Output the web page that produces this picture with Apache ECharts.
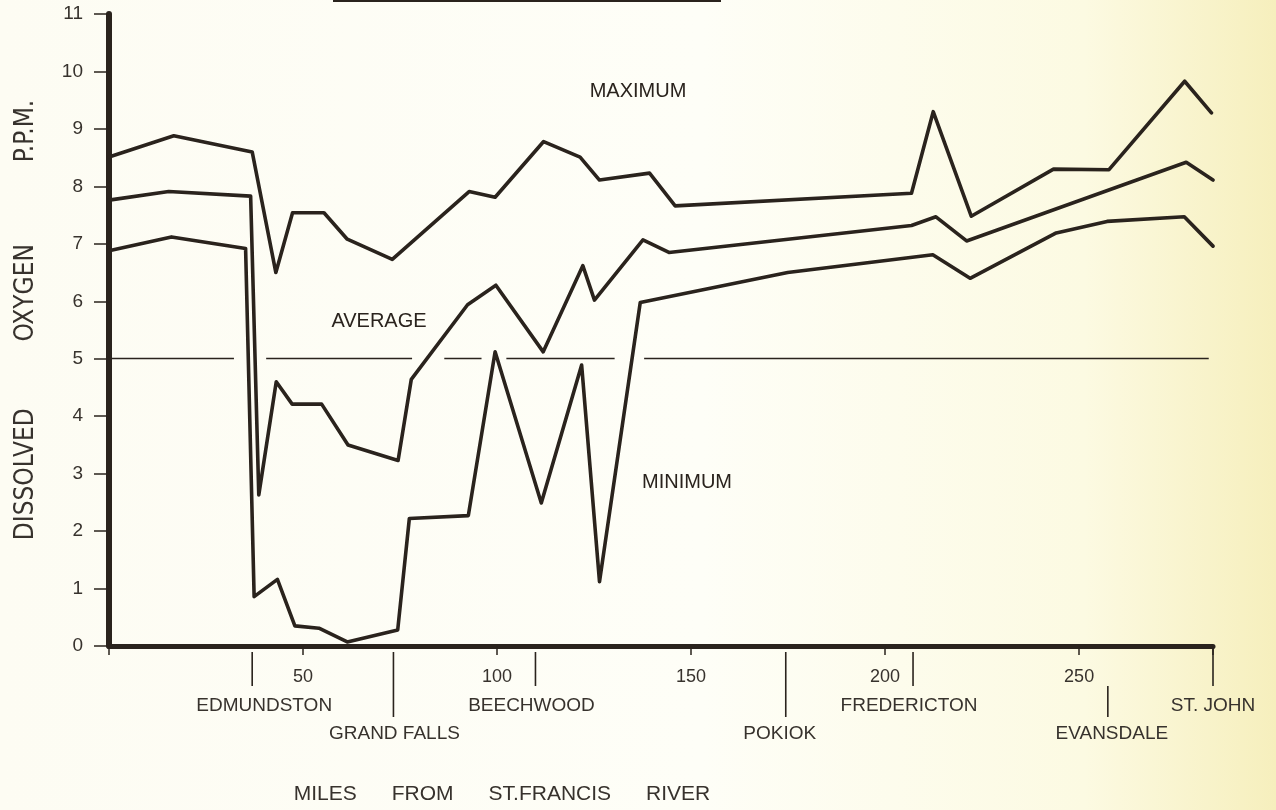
<!DOCTYPE html>
<html><head><meta charset="utf-8">
<script src="https://cdn.jsdelivr.net/npm/echarts@6/dist/echarts.min.js"></script>
<style>
html,body{margin:0;padding:0;}
#chart{width:1276px;height:810px;background:linear-gradient(to right,#fdfcf3 0%,#fefef7 55%,#fcfae2 85%,#f6efbd 100%);}
</style></head><body><div id="chart"></div>
<script>
// ---- data (miles from St. Francis River, dissolved oxygen p.p.m.) ----
const maxMiles = [0, 16.7, 36.9, 43.0, 47.3, 55.4, 61.4, 73.0, 92.8, 99.5, 112.0, 121.4, 126.4, 139.3, 145.9, 206.8, 212.4, 222.2, 243.4, 257.7, 277.2, 284.1];
const maxValues = [8.51, 8.88, 8.60, 6.50, 7.54, 7.54, 7.08, 6.73, 7.91, 7.81, 8.78, 8.51, 8.11, 8.23, 7.66, 7.88, 9.30, 7.48, 8.30, 8.29, 9.83, 9.28];
const avgMiles = [0, 15.4, 36.5, 38.6, 43.1, 47.2, 54.8, 61.6, 74.5, 77.9, 92.4, 99.7, 111.9, 122.1, 125.1, 137.6, 144.3, 206.8, 213.1, 221.0, 277.6, 284.5];
const avgValues = [7.76, 7.91, 7.83, 2.63, 4.60, 4.21, 4.21, 3.50, 3.23, 4.64, 5.94, 6.28, 5.12, 6.62, 6.02, 7.07, 6.85, 7.32, 7.47, 7.05, 8.42, 8.11];
const minMiles = [0, 16.1, 35.2, 37.4, 43.4, 47.9, 54.1, 61.4, 74.4, 77.4, 92.6, 99.5, 111.4, 121.8, 126.4, 136.9, 174.9, 212.3, 221.9, 244.1, 257.2, 277.1, 284.5];
const minValues = [6.88, 7.12, 6.92, 0.86, 1.16, 0.35, 0.31, 0.07, 0.28, 2.22, 2.27, 5.12, 2.49, 4.89, 1.12, 5.98, 6.50, 6.81, 6.40, 7.19, 7.39, 7.47, 6.96];
const seriesNames = ['MAXIMUM', 'AVERAGE', 'MINIMUM'];
const xTickLabels = [50, 100, 150, 200, 250];
const yTickLabels = [0, 1, 2, 3, 4, 5, 6, 7, 8, 9, 10, 11];
const towns = ['EDMUNDSTON', 'GRAND FALLS', 'BEECHWOOD', 'POKIOK', 'FREDERICTON', 'EVANSDALE', 'ST. JOHN'];
const townMiles = [36.9, 73.3, 109.9, 174.4, 207.2, 257.4, 284.5];
const refLevel = 5;
const refStarts = [0, 40.5, 86.4, 102.4, 137.9];
const refEnds = [32.2, 78.1, 96.0, 130.3, 283.4];
const xTitle = 'MILES      FROM      ST.FRANCIS      RIVER';
const yTitle = 'DISSOLVED         OXYGEN           P.P.M.';

// ---- styling / layout ----
const INK = '#2a231d';
const TXT = '#37322d';
const FONT = "'Liberation Sans', Arial, sans-serif";
const NARROW = "'Liberation Sans Narrow', 'DejaVu Sans Condensed', 'Liberation Sans', sans-serif";
const townLayout = {
  'EDMUNDSTON': {row: 1, dx: 12, from: 6},
  'GRAND FALLS': {row: 2, dx: 1, from: 6},
  'BEECHWOOD': {row: 1, dx: -4, from: 6},
  'POKIOK': {row: 2, dx: -6, from: 6},
  'FREDERICTON': {row: 1, dx: -4, from: 6},
  'EVANSDALE': {row: 2, dx: 4, from: 40},
  'ST. JOHN': {row: 1, dx: 0, from: 0}
};
const rowGeom = {1: {lineTo: 40, text: 60}, 2: {lineTo: 71, text: 88}};

const zip = (a, b) => a.map((x, i) => [x, b[i]]);
const lineSeries = (name, xs, ys) => ({
  name, type: 'line', data: zip(xs, ys), symbol: 'none', silent: true,
  lineStyle: {color: INK, width: 3.6, cap: 'round', join: 'round'}, z: 3
});

const chart = echarts.init(document.getElementById('chart'), null, {renderer: 'canvas'});
const option = {
  backgroundColor: 'transparent',
  animation: false,
  grid: {left: 109, right: 63, top: 14, bottom: 164},
  xAxis: {
    type: 'value', min: 0, max: 284.5, interval: 50,
    axisLine: {lineStyle: {color: INK, width: 5}},
    axisTick: {length: 9, lineStyle: {color: INK, width: 1.5}},
    axisLabel: {margin: 22, color: TXT, fontSize: 18, fontFamily: FONT,
      formatter: v => xTickLabels.indexOf(v) >= 0 ? String(v) : ''},
    splitLine: {show: false}
  },
  yAxis: {
    type: 'value', min: 0, max: 11, interval: 1,
    axisLine: {lineStyle: {color: INK, width: 6}},
    axisTick: {length: 15, lineStyle: {color: INK, width: 1.5}},
    axisLabel: {margin: 26, color: TXT, fontSize: 19, fontFamily: FONT,
      formatter: v => yTickLabels.indexOf(v) >= 0 ? String(v) : ''},
    splitLine: {show: false}
  },
  series: [
    lineSeries(seriesNames[0], maxMiles, maxValues),
    lineSeries(seriesNames[1], avgMiles, avgValues),
    Object.assign(lineSeries(seriesNames[2], minMiles, minValues), {
      markLine: {
        silent: true, symbol: ['none', 'none'], label: {show: false},
        lineStyle: {color: INK, width: 1.4, type: 'solid'},
        data: refStarts.map((s, i) => [{coord: [s, refLevel]}, {coord: [refEnds[i], refLevel]}])
      }
    }),
    {
      type: 'custom', name: 'towns', clip: false, silent: true, z: 4,
      data: towns.map((t, i) => [townMiles[i], 0, i]),
      encode: {x: 0, y: 1},
      renderItem: (params, api) => {
        const i = api.value(2);
        const name = towns[i];
        const lay = townLayout[name];
        const g = rowGeom[lay.row];
        const p = api.coord([api.value(0), 0]);
        return {
          type: 'group',
          children: [
            {type: 'line', shape: {x1: p[0], y1: p[1] + lay.from, x2: p[0], y2: p[1] + g.lineTo},
              style: {stroke: INK, lineWidth: 1.6}},
            {type: 'text', x: p[0] + lay.dx, y: p[1] + g.text,
              style: {text: name, fill: TXT, font: '19px ' + FONT, align: 'center', verticalAlign: 'middle',
                textAlign: 'center', textVerticalAlign: 'middle'}}
          ]
        };
      }
    }
  ],
  graphic: [
    {type: 'rect', left: 333, top: 0, shape: {width: 388, height: 2}, style: {fill: INK}, silent: true},
    {type: 'text', x: 502, y: 794, style: {text: xTitle, fill: TXT, font: '21px ' + FONT, align: 'center', verticalAlign: 'middle', textAlign: 'center', textVerticalAlign: 'middle'}},
    {type: 'text', x: 26, y: 320, rotation: Math.PI / 2, style: {text: yTitle, fill: TXT, font: '26px ' + NARROW, align: 'center', verticalAlign: 'middle', textAlign: 'center', textVerticalAlign: 'middle'}},
    {type: 'text', x: 638, y: 91, style: {text: seriesNames[0], fill: INK, font: '500 20px ' + FONT, align: 'center', verticalAlign: 'middle', textAlign: 'center', textVerticalAlign: 'middle'}},
    {type: 'text', x: 379, y: 321, style: {text: seriesNames[1], fill: INK, font: '500 20px ' + FONT, align: 'center', verticalAlign: 'middle', textAlign: 'center', textVerticalAlign: 'middle'}},
    {type: 'text', x: 687, y: 482, style: {text: seriesNames[2], fill: INK, font: '500 20px ' + FONT, align: 'center', verticalAlign: 'middle', textAlign: 'center', textVerticalAlign: 'middle'}}
  ]
};
chart.setOption(option);
</script></body></html>
